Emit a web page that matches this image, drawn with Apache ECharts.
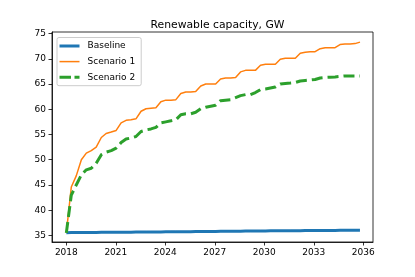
<!DOCTYPE html>
<html>
<head>
<meta charset="utf-8">
<script src="https://cdn.jsdelivr.net/npm/echarts@6/dist/echarts.min.js"></script>
<style>html,body{margin:0;padding:0;background:#fff}#c{width:415px;height:277px}</style>
</head>
<body>
<div id="c"></div>
<script>
const years = [2018.00,2018.30,2018.60,2018.91,2019.21,2019.51,2019.81,2020.12,2020.41,2020.72,
2021.02,2021.32,2021.62,2021.92,2022.22,2022.53,2022.83,2023.13,2023.43,2023.73,
2024.03,2024.34,2024.64,2024.94,2025.24,2025.54,2025.84,2026.15,2026.45,2026.75,
2027.05,2027.35,2027.65,2027.96,2028.26,2028.56,2028.86,2029.16,2029.46,2029.77,
2030.07,2030.37,2030.67,2030.97,2031.27,2031.58,2031.88,2032.18,2032.48,2032.78,
2033.08,2033.39,2033.69,2033.99,2034.29,2034.59,2034.89,2035.20,2035.50,2035.80];
const baseline = [35.55,35.56,35.57,35.58,35.59,35.60,35.60,35.61,35.62,35.62,
35.63,35.64,35.65,35.65,35.66,35.67,35.68,35.69,35.70,35.70,
35.71,35.72,35.73,35.74,35.75,35.75,35.76,35.77,35.78,35.79,
35.80,35.81,35.82,35.83,35.84,35.85,35.86,35.87,35.88,35.89,
35.90,35.91,35.92,35.92,35.93,35.94,35.95,35.95,35.96,35.97,
35.98,35.98,35.99,36.00,36.00,36.01,36.02,36.02,36.03,36.04];
const scenario1 = [35.5,44.6,46.8,50.0,51.3,51.8,52.5,54.4,55.2,55.5,
55.8,57.3,57.8,57.9,58.1,59.6,60.1,60.2,60.3,61.5,
61.8,61.8,61.9,63.1,63.4,63.4,63.5,64.6,65.0,65.0,
65.0,66.0,66.2,66.2,66.3,67.4,67.7,67.7,67.7,68.7,
68.9,68.9,68.9,69.9,70.1,70.1,70.1,71.1,71.3,71.4,
71.4,72.0,72.2,72.2,72.2,72.8,72.9,72.9,73.0,73.3];
const scenario2 = [35.5,43.0,45.0,47.0,48.0,48.3,49.3,51.0,51.5,51.8,
52.3,53.4,54.1,54.3,54.6,55.6,55.9,56.1,56.4,57.3,
57.5,57.7,57.9,58.9,59.1,59.1,59.4,60.1,60.4,60.6,
60.8,61.7,61.8,61.9,62.3,62.7,62.9,62.9,63.3,63.9,
64.0,64.2,64.4,65.0,65.1,65.2,65.3,65.6,65.7,65.8,
65.9,66.2,66.3,66.35,66.4,66.5,66.6,66.6,66.6,66.6];
const xTicks = [2018,2021,2024,2027,2030,2033,2036];
const yTicks = [35,40,45,50,55,60,65,70,75];

const zip = (xs, ys) => xs.map((x, i) => [x, ys[i]]);
const font = 'DejaVu Sans';
const chart = echarts.init(document.getElementById('c'), null, {renderer: 'canvas'});
chart.setOption({
  animation: false,
  backgroundColor: '#fff',
  title: {
    text: 'Renewable capacity, GW', left: 212.5, textAlign: 'center', top: 15,
    textStyle: {fontFamily: font, fontSize: 10.8, fontWeight: 'normal', color: '#000'}
  },
  legend: {
    orient: 'vertical', left: 57, top: 37.5, padding: [3.5, 6, 3.5, 2.5],
    itemWidth: 20, itemHeight: 10, itemGap: 5.6, symbolKeepAspect: true,
    backgroundColor: 'rgba(255,255,255,0.8)', borderColor: '#cccccc', borderWidth: 1, borderRadius: 2,
    textStyle: {fontFamily: font, fontSize: 9, color: '#000', padding: [0, 0, 0, 3], height: 10, lineHeight: 10},
    data: [
      {name: 'Baseline', icon: 'path://M0,0H20V3H0Z', itemStyle: {color: '#1f77b4', borderWidth: 0}},
      {name: 'Scenario 1', icon: 'path://M0,0H20V1.5H0Z', itemStyle: {color: '#ff7f0e', borderWidth: 0}},
      {name: 'Scenario 2', icon: 'path://M0,0H11.5V3H0Z M15,0H20V3H15Z', itemStyle: {color: '#2ca02c', borderWidth: 0}}
    ]
  },
  grid: {left: 52, right: 42, top: 32, bottom: 35, show: true, borderColor: '#000', borderWidth: 0.8, backgroundColor: 'transparent'},
  xAxis: {
    type: 'value', min: 2017.13, max: 2036.59,
    axisLine: {show: true, lineStyle: {color: '#000', width: 0.8}},
    axisTick: {show: true, customValues: xTicks, length: 3.5, lineStyle: {color: '#000', width: 0.8}},
    axisLabel: {customValues: xTicks, formatter: v => String(v), margin: 6, fontFamily: font, fontSize: 9, color: '#000'},
    splitLine: {show: false}
  },
  yAxis: {
    type: 'value', min: 33.7, max: 75.3,
    axisLine: {show: true, lineStyle: {color: '#000', width: 0.8}},
    axisTick: {show: true, customValues: yTicks, length: 3.5, lineStyle: {color: '#000', width: 0.8}},
    axisLabel: {customValues: yTicks, formatter: v => String(v), margin: 6, fontFamily: font, fontSize: 9, color: '#000'},
    splitLine: {show: false}
  },
  series: [
    {name: 'Baseline', type: 'line', data: zip(years, baseline), symbol: 'none', color: '#1f77b4',
     lineStyle: {width: 3, color: '#1f77b4'}},
    {name: 'Scenario 1', type: 'line', data: zip(years, scenario1), symbol: 'none', color: '#ff7f0e',
     lineStyle: {width: 1.5, color: '#ff7f0e'}},
    {name: 'Scenario 2', type: 'line', data: zip(years, scenario2), symbol: 'none', color: '#2ca02c',
     lineStyle: {width: 3, color: '#2ca02c', type: [11, 5]}}
  ]
});
</script>
</body>
</html>
